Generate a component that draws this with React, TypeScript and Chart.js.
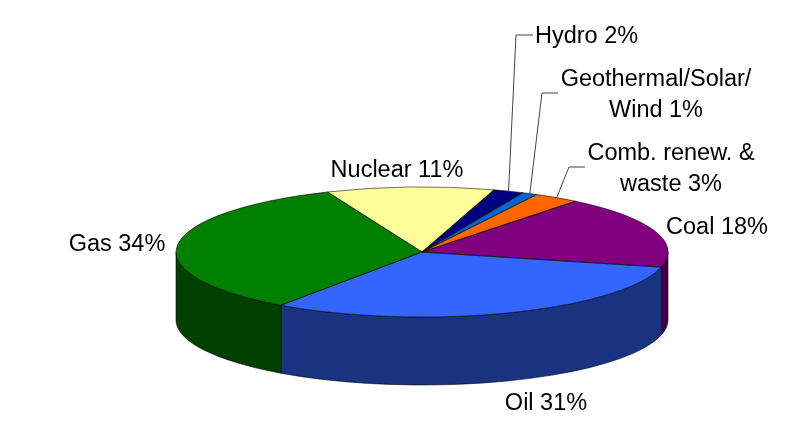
import React, { useEffect, useRef } from "react";
import { Chart, registerables } from "chart.js";

Chart.register(...registerables);

const categories = ["Hydro", "Geothermal/Solar/Wind", "Comb. renew. & waste", "Coal", "Oil", "Gas", "Nuclear"];
const shares = [2, 1, 3, 18, 31, 34, 11];
const topColors = ["#000080", "#0066cc", "#ff6600", "#800080", "#3366ff", "#008000", "#ffff99"];
const wallColors = ["#000040", "#003366", "#803300", "#400040", "#1a3380", "#004000", "#808050"];
const labelLines = [["Hydro 2%"], ["Geothermal/Solar/", "Wind 1%"], ["Comb. renew. &", "waste 3%"], ["Coal 18%"], ["Oil 31%"], ["Gas 34%"], ["Nuclear 11%"]];

const RX = 246;
const RY = 65;
const DEPTH = 68;
const FONT = '23.5px "Liberation Sans", Arial, sans-serif';
const LINE_H = 31;

const placement = [
  { x: 586.5, y: 43, elbow: [516, 35], end: [533, 35] },
  { x: 656, y: 86, elbow: [542, 93], end: [558, 93] },
  { x: 671, y: 160, elbow: [569, 167], end: [585, 167] },
  { x: 717, y: 234 },
  { x: 546, y: 410 },
  { x: 117, y: 251 },
  { x: 397, y: 177 },
];

const pie3d = {
  id: "pie3d",
  beforeDatasetDraw(chart: any) {
    const ctx = chart.ctx;
    const arcs = chart.getDatasetMeta(0).data;
    const sy = RY / RX;
    ctx.save();
    arcs.forEach((arc: any, i: number) => {
      const { x, y, startAngle, endAngle } = arc;
      const a = Math.max(startAngle, 0);
      const b = Math.min(endAngle, Math.PI);
      if (b <= a) return;
      ctx.beginPath();
      ctx.ellipse(x, y + DEPTH, RX, RY, 0, a, b);
      ctx.ellipse(x, y, RX, RY, 0, b, a, true);
      ctx.closePath();
      ctx.fillStyle = wallColors[i];
      ctx.fill();
      ctx.strokeStyle = "rgba(0,0,0,0.8)";
      ctx.lineWidth = 0.7;
      ctx.stroke();
    });
    ctx.restore();
    const { x, y } = arcs[0];
    ctx.save();
    ctx.translate(x, y);
    ctx.scale(1, sy);
    ctx.translate(-x, -y);
  },
  afterDatasetDraw(chart: any) {
    const ctx = chart.ctx;
    ctx.restore();
    const arcs = chart.getDatasetMeta(0).data;
    ctx.save();
    ctx.strokeStyle = "rgba(0,0,0,0.8)";
    ctx.lineWidth = 0.7;
    arcs.forEach((arc: any) => {
      const { x, y, startAngle, endAngle } = arc;
      ctx.beginPath();
      ctx.moveTo(x, y);
      ctx.ellipse(x, y, RX, RY, 0, startAngle, endAngle);
      ctx.closePath();
      ctx.stroke();
    });
    // labels and leaders
    ctx.fillStyle = "#000";
    ctx.font = FONT;
    ctx.textAlign = "center";
    ctx.textBaseline = "alphabetic";
    arcs.forEach((arc: any, i: number) => {
      const p: any = placement[i];
      labelLines[i].forEach((t, k) => ctx.fillText(t, p.x, p.y + k * LINE_H));
      if (p.elbow) {
        const mid = (arc.startAngle + arc.endAngle) / 2;
        ctx.beginPath();
        ctx.moveTo(arc.x + RX * Math.cos(mid), arc.y + RY * Math.sin(mid));
        ctx.lineTo(p.elbow[0], p.elbow[1]);
        ctx.lineTo(p.end[0], p.end[1]);
        ctx.strokeStyle = "#444";
        ctx.lineWidth = 1;
        ctx.stroke();
      }
    });
    ctx.restore();
  },
};

export default function App() {
  const ref = useRef<HTMLCanvasElement | null>(null);
  useEffect(() => {
    const chart = new Chart(ref.current as HTMLCanvasElement, {
      type: "pie",
      data: {
        labels: categories,
        datasets: [{ data: shares, backgroundColor: topColors, borderWidth: 0, clip: false } as any],
      },
      options: {
        responsive: false,
        animation: false,
        rotation: 17,
        radius: RX,
        layout: { padding: { left: 44, top: 73 } },
        plugins: { legend: { display: false }, tooltip: { enabled: false } },
      } as any,
      plugins: [pie3d],
    });
    return () => chart.destroy();
  }, []);
  return (
    <div style={{ position: "absolute", left: 0, top: 0, width: 800, height: 431, background: "#fff" }}>
      <canvas ref={ref} width={800} height={431} style={{ display: "block" }} />
    </div>
  );
}
